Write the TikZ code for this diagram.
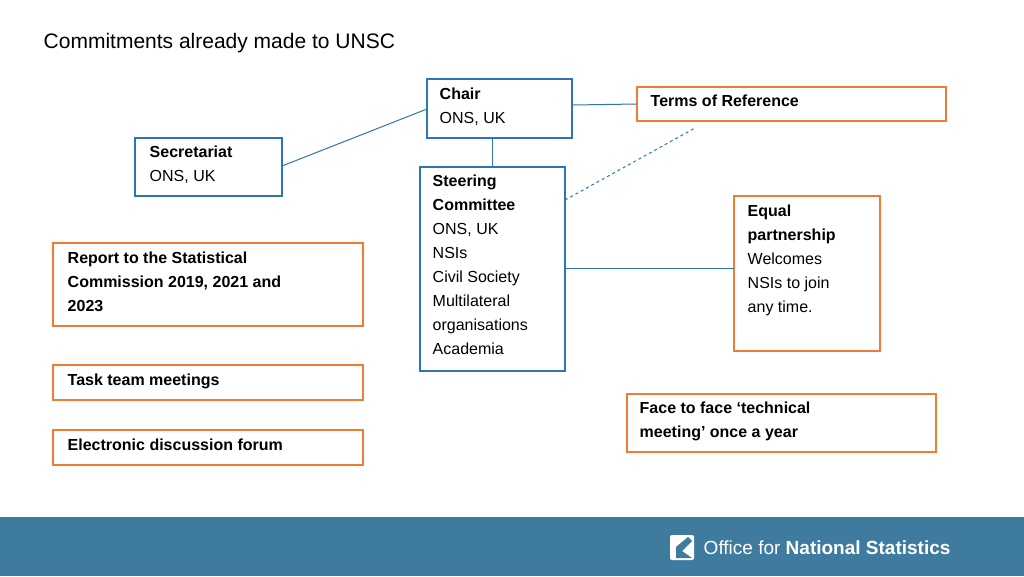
\documentclass[tikz,border=0pt]{standalone}
\usepackage{fontspec}
\setmainfont{Liberation Sans}
\definecolor{bluebox}{RGB}{46,117,182}
\definecolor{orangebox}{RGB}{237,125,49}
\definecolor{band}{RGB}{62,123,158}
\tikzset{every picture/.style={line width=0.75pt}}
\tikzset{
  btxt/.style={anchor=north west,align=left,font=\fontsize{16}{24}\selectfont},
  bframe/.style={draw=bluebox,line width=1.2pt},
  oframe/.style={draw=orangebox,line width=1.2pt},
  link/.style={draw=bluebox,line width=1pt}
}
\begin{document}
\begin{tikzpicture}[x=1pt,y=1pt,yscale=-1,xscale=1]
\useasboundingbox (0,0) rectangle (1024,576);
\fill[white] (0,0) rectangle (1024,576);

% Title
\node[anchor=west,font=\fontsize{21}{25}\selectfont] (title) at (40,43) {Commitments already made to UNSC};

% Boxes
\draw[bframe] (427,79) rectangle (572,138);
\node[btxt] (chair) at (436,84) {\textbf{Chair}\\ONS, UK};
\draw[oframe] (637,87) rectangle (946,121);
\node[btxt] (tor) at (647,91) {\textbf{Terms of Reference}};
\draw[bframe] (135,138) rectangle (282,196);
\node[btxt] (sec) at (146,142) {\textbf{Secretariat}\\ONS, UK};
\draw[bframe] (420,167) rectangle (565,371);
\node[btxt] (steer) at (429,171) {\textbf{Steering}\\\textbf{Committee}\\ONS, UK\\NSIs\\Civil Society\\Multilateral\\organisations\\Academia};
\draw[oframe] (734,196) rectangle (880,351);
\node[btxt] (equal) at (744,201) {\textbf{Equal}\\\textbf{partnership}\\Welcomes\\NSIs to join\\any time.};
\draw[oframe] (53,243) rectangle (363,326);
\node[btxt] (report) at (64,248) {\textbf{Report to the Statistical}\\\textbf{Commission 2019, 2021 and}\\\textbf{2023}};
\draw[oframe] (53,365) rectangle (363,400);
\node[btxt] (task) at (64,370) {\textbf{Task team meetings}};
\draw[oframe] (627,394) rectangle (936,452);
\node[btxt] (face) at (636,398) {\textbf{Face to face ‘technical}\\\textbf{meeting’ once a year}};
\draw[oframe] (53,430) rectangle (363,465);
\node[btxt] (forum) at (64,435) {\textbf{Electronic discussion forum}};

% Connectors
\coordinate (chairW) at (427,109);
\coordinate (secE) at (282,166);
\coordinate (chairE) at (572,105);
\coordinate (torW) at (637,104);
\coordinate (chairS) at (492,138);
\coordinate (steerN) at (492,167);
\coordinate (steerE) at (565,268);
\coordinate (equalW) at (734,268);
\coordinate (steerNE) at (565,200);
\coordinate (dashend) at (695,128);
\draw[link] (chairW) -- (secE);
\draw[link] (chairE) -- (torW);
\draw[link] (chairS) -- (steerN);
\draw[link] (steerE) -- (equalW);
\draw[link,dashed] (steerNE) -- (dashend);

% Footer
\fill[band] (0,517) rectangle (1024,576);
\fill[white,rounded corners=2pt] (670,535) -- (694,535) -- (694,560) -- (670,560) -- cycle;
\fill[band] (676,547) -- (688,537) -- (692,541) -- (682,551) -- (692,558) -- (676,558) -- cycle;
\node[anchor=west,text=white,font=\fontsize{19}{22}\selectfont] (ons) at (700,548) {Office for \textbf{National Statistics}};
\end{tikzpicture}
\end{document}
